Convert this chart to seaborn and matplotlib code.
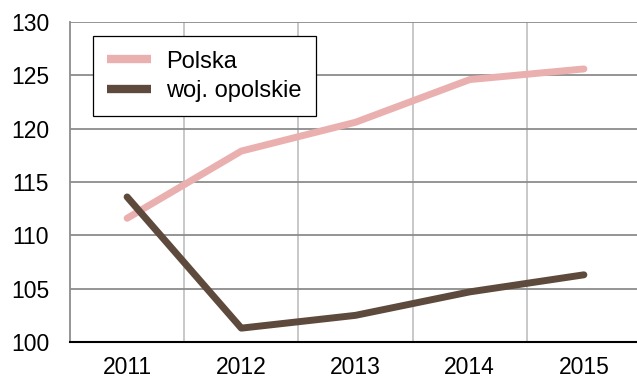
import matplotlib
matplotlib.use("Agg")
import matplotlib.pyplot as plt
import numpy as np
import pandas as pd
import seaborn as sns

years = ["2011", "2012", "2013", "2014", "2015"]
polska = [111.6, 117.9, 120.6, 124.6, 125.6]
opolskie = [113.6, 101.3, 102.5, 104.7, 106.3]
series_names = ["Polska", "woj. opolskie"]
colors = ["#EAB0AF", "#5E4A3D"]

df = pd.DataFrame({
    "rok": years * 2,
    "wartosc": polska + opolskie,
    "seria": [series_names[0]] * len(years) + [series_names[1]] * len(years),
})

sns.set_theme(style="white")
plt.rcParams["font.family"] = ["Liberation Sans", "DejaVu Sans"]
plt.rcParams["text.color"] = "#000000"

fig = plt.figure(figsize=(6.37, 3.78), dpi=100)
ax = fig.add_axes([0.1099, 0.0952, 0.8964, 0.8466])

sns.lineplot(data=df, x="rok", y="wartosc", hue="seria", palette=colors,
             linewidth=5, ax=ax, sort=False, legend=True)
for ln in ax.lines:
    ln.set_solid_capstyle("round")
    ln.set_solid_joinstyle("round")

ax.set_xlim(-0.5, 4.5)
ax.set_ylim(100, 130)
ax.set_yticks(np.arange(100, 131, 5))
ax.set_xticks(range(len(years)))
ax.set_xticklabels(years)
ax.set_xticks(np.arange(0.5, 4.6, 1), minor=True)

ax.grid(False)
ax.yaxis.grid(True, color="#8c8c8c", linewidth=1.3)
ax.xaxis.grid(True, which="minor", color="#c4c4c4", linewidth=1.3)
ax.set_axisbelow(True)

ax.tick_params(axis="both", which="both", length=0, labelsize=16.5, colors="#000000")
ax.tick_params(axis="x", pad=10)
ax.tick_params(axis="y", pad=15)
ax.set_xlabel("")
ax.set_ylabel("")

for side in ["top", "right"]:
    ax.spines[side].set_visible(False)
ax.spines["left"].set_color("#8c8c8c")
ax.spines["left"].set_linewidth(1.3)
ax.spines["bottom"].set_color("#000000")
ax.spines["bottom"].set_linewidth(1.5)

leg = ax.legend(loc="upper left", bbox_to_anchor=(0.04, 0.956), fontsize=17,
                frameon=True, fancybox=False, handlelength=1.85,
                borderpad=0.62, labelspacing=0.3, handletextpad=0.62,
                borderaxespad=0, labelcolor="#000000")
leg.get_frame().set_edgecolor("#000000")
leg.get_frame().set_linewidth(0.9)
leg.get_frame().set_alpha(1)
for h in leg.get_lines():
    h.set_linewidth(6)
    h.set_solid_capstyle("butt")

fig.savefig("out.png", dpi=100)
